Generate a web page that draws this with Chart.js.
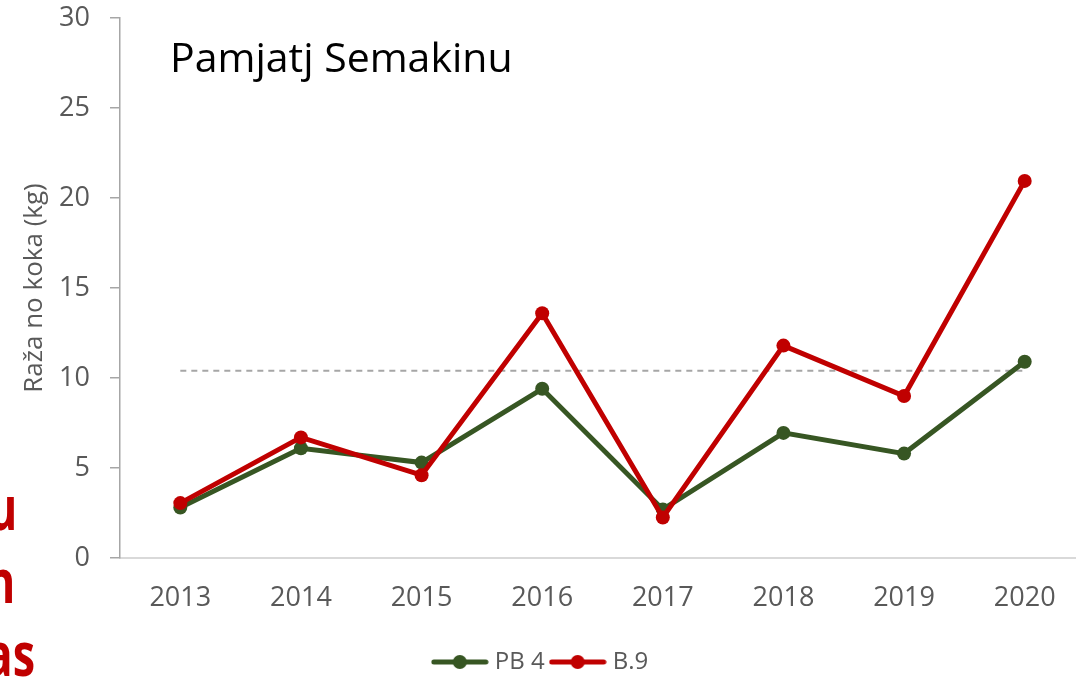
<!DOCTYPE html>
<html>
<head>
<meta charset="utf-8">
<script src="https://cdn.jsdelivr.net/npm/chart.js@4.4.1/dist/chart.umd.min.js"></script>
<style>
  html, body { margin: 0; padding: 0; background: #fff; overflow: hidden; }
  body { width: 1076px; height: 677px; position: relative; }
  #chart { position: absolute; left: 0; top: 0; }
  .title { position: absolute; left: 170px; top: 36px; font: 41px/1 "Open Sans", sans-serif; color: #000; white-space: nowrap; }
  .side { position: absolute; font: bold 60px/1 "Open Sans", sans-serif; color: #c00000; white-space: nowrap;
          transform: scaleX(0.75); transform-origin: right center; }
</style>
</head>
<body>
<canvas id="chart" width="1100" height="684"></canvas>
<div class="title">Pamjatj Semakinu</div>
<div class="side" style="right:1059px; top:477px;">u</div>
<div class="side" style="right:1061px; top:550px;">n</div>
<div class="side" style="right:1041px; top:623px;">as</div>
<script>
// data
const years = ['2013', '2014', '2015', '2016', '2017', '2018', '2019', '2020'];
const pb4 = [2.8, 6.1, 5.3, 9.4, 2.7, 6.95, 5.8, 10.9];
const b9 = [3.05, 6.7, 4.6, 13.6, 2.25, 11.8, 9.0, 20.95];
const refLine = [10.4, 10.4, 10.4, 10.4, 10.4, 10.4, 10.4, 10.4];

const GREEN = '#375623';
const RED = '#c00000';
const GREY_TXT = '#595959';

// legend marker: short line with a dot, like Excel
function marker(color) {
    const c = document.createElement('canvas');
    c.width = 58; c.height = 16;
    const g = c.getContext('2d');
    g.strokeStyle = color;
    g.lineWidth = 5;
    g.lineCap = 'round';
    g.beginPath(); g.moveTo(3, 8); g.lineTo(55, 8); g.stroke();
    g.fillStyle = color;
    g.beginPath(); g.arc(29, 8, 7, 0, Math.PI * 2); g.fill();
    return c;
}
const markers = [marker(GREEN), marker(RED)];

const ctx = document.getElementById('chart').getContext('2d');
new Chart(ctx, {
    type: 'line',
    data: {
        labels: years,
        datasets: [
            {
                label: 'PB 4',
                data: pb4,
                borderColor: GREEN,
                backgroundColor: GREEN,
                borderWidth: 5,
                pointRadius: 7,
                pointHoverRadius: 7,
                pointBorderWidth: 0,
                order: 2
            },
            {
                label: 'B.9',
                data: b9,
                borderColor: RED,
                backgroundColor: RED,
                borderWidth: 5,
                pointRadius: 7,
                pointHoverRadius: 7,
                pointBorderWidth: 0,
                order: 1
            },
            {
                label: 'ref',
                data: refLine,
                borderColor: '#a6a6a6',
                borderWidth: 2,
                borderDash: [6, 5],
                pointRadius: 0,
                order: 3
            }
        ]
    },
    options: {
        responsive: false,
        animation: false,
        layout: { padding: { left: 0, right: 15, top: 18, bottom: 0 } },
        plugins: {
            tooltip: { enabled: false },
            legend: {
                position: 'bottom',
                labels: {
                    usePointStyle: true,
                    pointStyleWidth: 46,
                    padding: 10,
                    color: GREY_TXT,
                    font: { family: 'Open Sans', size: 24 },
                    sort: (a, b) => a.datasetIndex - b.datasetIndex,
                    generateLabels: (chart) =>
                        Chart.defaults.plugins.legend.labels.generateLabels(chart)
                            .filter(i => i.datasetIndex < 2)
                            .map(i => ({ ...i, pointStyle: markers[i.datasetIndex] }))
                }
            }
        },
        scales: {
            x: {
                offset: true,
                grid: { display: false, drawTicks: false },
                border: { color: '#d9d9d9', width: 2 },
                ticks: {
                    color: GREY_TXT,
                    padding: 24,
                    maxRotation: 0,
                    font: { family: 'Open Sans', size: 27 }
                },
                afterFit: (s) => { s.height = 82; s.paddingLeft = 0; s.paddingRight = 0; }
            },
            y: {
                min: 0,
                max: 30,
                ticks: {
                    stepSize: 5,
                    color: GREY_TXT,
                    padding: 20,
                    font: { family: 'Open Sans', size: 27 }
                },
                grid: { drawOnChartArea: false, color: '#a6a6a6', tickLength: 10, lineWidth: 1.5 },
                border: { color: '#a6a6a6', width: 1.5 },
                title: {
                    display: true,
                    text: 'Raža no koka (kg)',
                    color: GREY_TXT,
                    padding: { top: 19, bottom: 0 },
                    font: { family: 'Open Sans', size: 26 }
                },
                afterFit: (s) => { s.width = 120; s.paddingTop = 0; s.paddingBottom = 0; }
            }
        }
    }
});
</script>
</body>
</html>
